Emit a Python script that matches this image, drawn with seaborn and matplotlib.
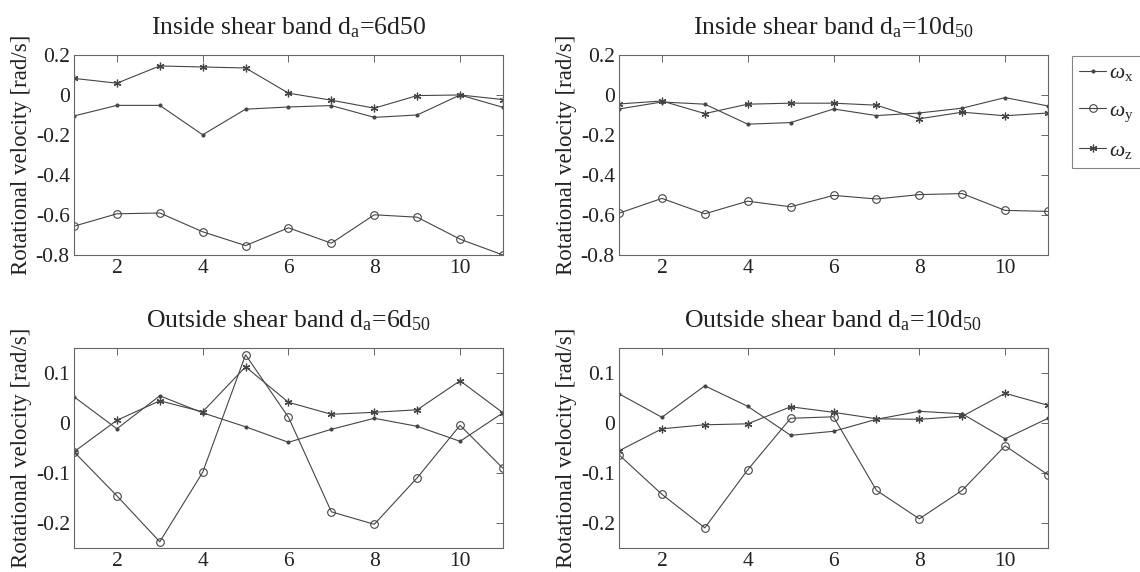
import matplotlib
matplotlib.use("Agg")
import matplotlib.pyplot as plt
import matplotlib.ticker as mticker
import seaborn as sns

# sample index along the band
samples = list(range(1, 12))

# inside shear band, d_a = 6d50
in6_wx = [-0.105, -0.052, -0.052, -0.199, -0.071, -0.060, -0.053, -0.112, -0.100, 0.000, -0.062]
in6_wy = [-0.656, -0.594, -0.590, -0.684, -0.753, -0.664, -0.741, -0.599, -0.611, -0.721, -0.800]
in6_wz = [0.083, 0.059, 0.145, 0.140, 0.135, 0.009, -0.026, -0.066, -0.003, 0.000, -0.023]

# inside shear band, d_a = 10d50
in10_wx = [-0.070, -0.035, -0.046, -0.146, -0.138, -0.070, -0.103, -0.090, -0.066, -0.013, -0.055]
in10_wy = [-0.591, -0.517, -0.594, -0.531, -0.559, -0.502, -0.520, -0.498, -0.493, -0.577, -0.582]
in10_wz = [-0.045, -0.030, -0.093, -0.046, -0.041, -0.041, -0.051, -0.119, -0.086, -0.104, -0.090]

# outside shear band, d_a = 6d50
out6_wx = [0.053, -0.011, 0.055, 0.021, -0.007, -0.038, -0.012, 0.010, -0.006, -0.036, 0.021]
out6_wy = [-0.057, -0.145, -0.237, -0.098, 0.137, 0.012, -0.177, -0.202, -0.109, -0.004, -0.090]
out6_wz = [-0.057, 0.006, 0.045, 0.023, 0.113, 0.042, 0.018, 0.022, 0.027, 0.085, 0.021]

# outside shear band, d_a = 10d50
out10_wx = [0.059, 0.012, 0.075, 0.034, -0.024, -0.016, 0.008, 0.024, 0.019, -0.031, 0.010]
out10_wy = [-0.063, -0.142, -0.209, -0.093, 0.010, 0.013, -0.134, -0.191, -0.134, -0.045, -0.103]
out10_wz = [-0.055, -0.011, -0.003, -0.001, 0.033, 0.022, 0.009, 0.008, 0.014, 0.060, 0.036]

titles = [r"Inside shear band d$_\mathrm{a}$=6d50",
          r"Inside shear band d$_\mathrm{a}$=10d$_\mathrm{50}$",
          r"Outside shear band d$_\mathrm{a}$=6d$_\mathrm{50}$",
          r"Outside shear band d$_\mathrm{a}$=10d$_\mathrm{50}$"]
labels = [r"$\omega_\mathrm{x}$", r"$\omega_\mathrm{y}$", r"$\omega_\mathrm{z}$"]
xticks = [2, 4, 6, 8, 10]
yticks_in = [-0.8, -0.6, -0.4, -0.2, 0, 0.2]
yticks_out = [-0.2, -0.1, 0, 0.1]

panels = [(in6_wx, in6_wy, in6_wz), (in10_wx, in10_wy, in10_wz),
          (out6_wx, out6_wy, out6_wz), (out10_wx, out10_wy, out10_wz)]

sns.set_theme(style="white")
plt.rcParams["font.family"] = ["Liberation Serif", "DejaVu Serif"]
plt.rcParams["mathtext.fontset"] = "custom"
plt.rcParams["mathtext.rm"] = "Liberation Serif"
plt.rcParams["mathtext.it"] = "Liberation Serif:italic"

line_col = "#454545"
text_col = "#222222"
spine_col = "#666666"
markers = [dict(marker="o", markersize=2.2, markerfacecolor=line_col, markeredgecolor=line_col),
           dict(marker="o", markersize=5.5, markerfacecolor="none", markeredgecolor=line_col, markeredgewidth=0.8),
           dict(marker=(6, 2, 0), markersize=5.5, markeredgecolor=line_col, markeredgewidth=0.9)]

fig = plt.figure(figsize=(11.4, 5.72), dpi=100)
boxes = [(0.0649, 0.5542, 0.3763, 0.3497), (0.5430, 0.5542, 0.3763, 0.3497),
         (0.0649, 0.0414, 0.3763, 0.3497), (0.5430, 0.0414, 0.3763, 0.3497)]

handles = []
for i, (series, box) in enumerate(zip(panels, boxes)):
    ax = fig.add_axes(box)
    for vals, lab, mk in zip(series, labels, markers):
        sns.lineplot(x=samples, y=vals, ax=ax, color=line_col, linewidth=0.8,
                     label=lab, legend=False, **mk)
    ax.set_xlim(1, 11)
    ax.set_xticks(xticks)
    if i < 2:
        ax.set_ylim(-0.8, 0.2)
        ax.set_yticks(yticks_in)
    else:
        ax.set_ylim(-0.25, 0.15)
        ax.set_yticks(yticks_out)
    ax.yaxis.set_major_formatter(mticker.FormatStrFormatter("%g"))
    ax.tick_params(direction="in", length=5, width=0.7, top=True, right=True,
                   labelsize=15.5, colors=spine_col, labelcolor=text_col)
    ax.tick_params(axis="x", pad=3)
    ax.tick_params(axis="y", pad=3)
    for s in ax.spines.values():
        s.set_color(spine_col)
        s.set_linewidth(0.8)
    ax.set_title(titles[i], fontsize=18.5, color=text_col, pad=15)
    ax.set_ylabel("Rotational velocity [rad/s]", fontsize=16.5, color=text_col, labelpad=3)
    ax.set_xlabel("")
    if i == 0:
        handles = ax.get_lines()

leg = fig.legend(handles, labels, loc="upper left", bbox_to_anchor=(0.94, 0.9026),
                 borderaxespad=0, frameon=True, fontsize=15.5, handlelength=1.25,
                 handletextpad=0.15, labelspacing=0.8, borderpad=0.35, fancybox=False)
leg.get_frame().set_edgecolor(spine_col)
leg.get_frame().set_linewidth(0.8)
for t in leg.get_texts():
    t.set_color(text_col)

fig.savefig("out.png", dpi=100)
